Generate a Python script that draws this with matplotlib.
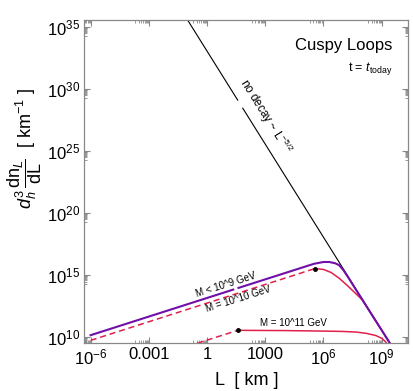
import numpy as np
import matplotlib
matplotlib.use("Agg")
import matplotlib.pyplot as plt
from matplotlib.ticker import FixedLocator, NullFormatter

plt.rcParams['font.family'] = ['Liberation Sans', 'DejaVu Sans']
plt.rcParams['mathtext.fontset'] = 'custom'
plt.rcParams['mathtext.rm'] = 'Liberation Sans'
plt.rcParams['mathtext.it'] = 'Liberation Sans:italic'
plt.rcParams['mathtext.bf'] = 'Liberation Sans:bold'

# data, as (log10 L, log10 y)
purple_logL = [-6.0, 5.5, 6.0, 6.3, 6.6, 6.8, 7.0, 7.3, 7.6, 9.42]
purple_logy = [10.15, 15.9, 16.05, 16.05, 15.95, 15.8, 15.45, 14.75, 14.0, 9.52]

m10_dash_logL = [-6.0, 5.56]
m10_dash_logy = [9.73, 15.52]
m10_logL = [5.56, 6.0, 6.4, 6.8, 7.2, 7.6, 8.0, 9.42]
m10_logy = [15.52, 15.45, 15.2, 14.75, 14.2, 13.6, 13.0, 9.52]

m11_dash_logL = [-1.0, 1.58]
m11_dash_logy = [9.25, 10.54]
m11_logL = [1.58, 4.0, 6.0, 7.0, 7.7, 8.2, 8.7, 9.0, 9.2, 9.35]
m11_logy = [10.54, 10.52, 10.48, 10.45, 10.4, 10.3, 10.12, 9.9, 9.62, 9.3]

# no decay line, split where the label sits
nodecay_logL = [[-1.5, 1.58], [1.84, 9.6]]
nodecay_logy = [[36.8, 29.1], [28.45, 9.05]]

dots_logL = [5.56, 1.58]
dots_logy = [15.52, 10.54]

xticks = [-6, -3, 0, 3, 6, 9]
xticklabels = ['$10^{-6}$', '0.001', '1', '1000', '$10^{6}$', '$10^{9}$']
yticks = [10, 15, 20, 25, 30, 35]

purple = '#7010A8'
red = '#E0204A'

fig = plt.figure(figsize=(4.13, 3.91), dpi=100)
ax = fig.add_axes([0.204, 0.1228, 0.784, 0.8273])

def P(a):
    return 10.0 ** np.array(a)

for lx, ly in zip(nodecay_logL, nodecay_logy):
    ax.plot(P(lx), P(ly), color='black', lw=0.8)

dash = (0, (4, 2.5))
ax.plot(P(m11_dash_logL), P(m11_dash_logy), color=red, lw=1.1, ls=dash)
ax.plot(P(m11_logL), P(m11_logy), color=red, lw=1.1)
ax.plot(P(m10_dash_logL), P(m10_dash_logy), color=red, lw=1.1, ls=dash)
ax.plot(P(m10_logL), P(m10_logy), color=red, lw=1.1)
# purple with a small gap for its label
ax.plot(P([purple_logL[0], 1.35]), P([purple_logy[0], 10.15 + 0.5 * 7.35]), color=purple, lw=1.5)
ax.plot(P([1.62] + purple_logL[1:]), P([10.15 + 0.5 * 7.62] + purple_logy[1:]), color=purple, lw=1.5)
ax.plot(P(dots_logL), P(dots_logy), 'o', color='black', ms=2.5)

ax.set_xscale('log')
ax.set_yscale('log')
ax.set_xlim(10 ** -6.33, 10 ** 10.36)
ax.set_ylim(10 ** 9.52, 10 ** 35.6)

ax.xaxis.set_major_locator(FixedLocator(P(xticks)))
ax.set_xticklabels(xticklabels)
ax.yaxis.set_major_locator(FixedLocator(P(yticks)))
ax.set_yticklabels(['$10^{%d}$' % t for t in yticks])
xminor = [k - 1 + np.log10(m) for k in xticks for m in range(2, 10)]
yminor = [k - 1 + np.log10(m) for k in yticks for m in range(2, 10)]
ax.xaxis.set_minor_locator(FixedLocator(P(xminor)))
ax.yaxis.set_minor_locator(FixedLocator(P(yminor)))
ax.xaxis.set_minor_formatter(NullFormatter())
ax.yaxis.set_minor_formatter(NullFormatter())
ax.tick_params(which='both', direction='in', top=True, right=True, color='#888888',
               labelsize=12, pad=3)
ax.tick_params(which='major', length=4, width=0.8)
ax.tick_params(which='minor', length=2, width=0.6)
for s in ax.spines.values():
    s.set_color('#888888')
    s.set_linewidth(0.9)

ax.set_xlabel('L  [ km ]', fontsize=13)
ax.xaxis.set_label_coords(0.503, -0.09)
ax.set_ylabel(r'$d_h^3\,\dfrac{\mathrm{dn}_L}{\mathrm{dL}}$  [ km$^{-1}$ ]', fontsize=13)
ax.yaxis.set_label_coords(-0.125, 0.6)

ax.text(0.952, 0.92, 'Cuspy Loops', transform=ax.transAxes, ha='right', va='center', fontsize=12)
ax.text(0.952, 0.85, r't = $t_{\mathrm{today}}$', transform=ax.transAxes, ha='right',
        va='center', fontsize=9)
ax.text(10 ** 3.0, 10 ** 27.8, r'no decay ~ L$^{-5/2}$', rotation=-58, ha='center',
        va='center', fontsize=8.5, rotation_mode='anchor')
ax.text(10 ** 0.95, 10 ** 14.2, 'M < 10^9 GeV', rotation=17.5, ha='center', va='center',
        fontsize=7, rotation_mode='anchor')
ax.text(10 ** 1.6, 10 ** 13.05, 'M = 10^10 GeV', rotation=17.5, ha='center', va='center',
        fontsize=7, rotation_mode='anchor')
ax.text(10 ** 4.45, 10 ** 11.13, 'M = 10^11 GeV', ha='center', va='center', fontsize=7)

fig.savefig('out.png', dpi=100)
